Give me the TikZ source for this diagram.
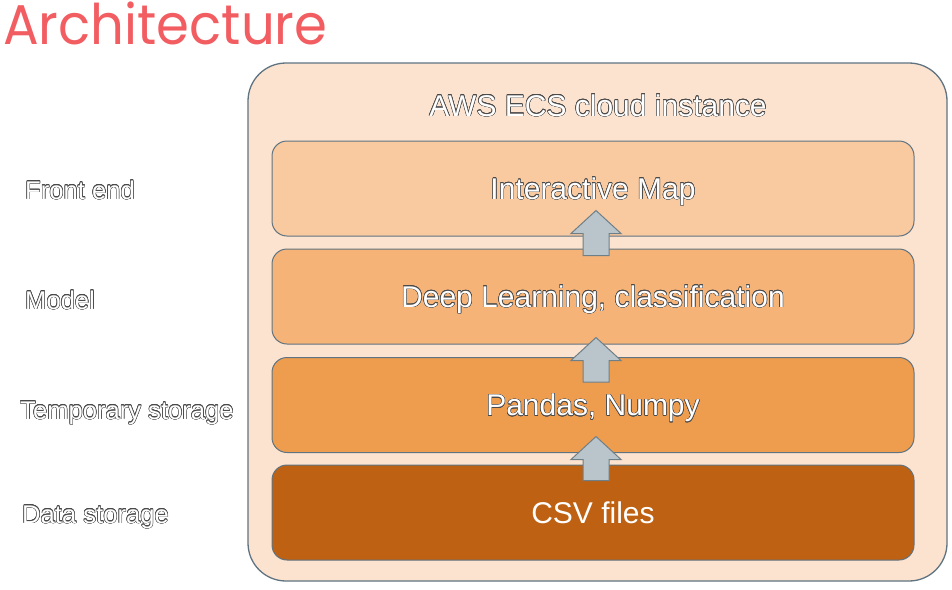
\documentclass[tikz,border=0pt]{standalone}
\usepackage{fontspec}
\setmainfont{Liberation Sans}
\newfontfamily\titlefont{Poppins}[FakeStretch=0.945]
\usepackage[copies]{contour}
\contourlength{0.5pt}
\contournumber{16}
\usetikzlibrary{calc}
\definecolor{titlered}{HTML}{F25D61}
\definecolor{outerfill}{HTML}{FCE3CF}
\definecolor{fillA}{HTML}{F9C9A0}
\definecolor{fillB}{HTML}{F5B378}
\definecolor{fillC}{HTML}{EE9D4F}
\definecolor{fillD}{HTML}{BE6112}
\definecolor{edge}{HTML}{5F7381}
\definecolor{arrfill}{HTML}{B9C5CB}
\definecolor{arredge}{HTML}{6F7F88}
\definecolor{outl}{HTML}{4A4A4A}
\newcommand\outlined[1]{\contour{outl}{\textcolor{white}{#1}}}
\tikzset{
  layerbox/.style={draw=edge, line width=1pt, rounded corners=15pt,
    minimum width=642pt, minimum height=95pt, inner sep=0pt,
    font=\fontsize{30}{36}\selectfont, text height=21.5pt, text depth=0pt},
  sidelabel/.style={anchor=base west, inner sep=0pt,
    font=\fontsize{25.6}{30}\selectfont},
  blockarrow/.style={draw=arredge, fill=arrfill, line width=1pt, line join=miter}
}
\newcommand\blockup[2]{%
  \draw[blockarrow] let \p1=(#1), \p2=(#2) in
    (\x1-13pt,\y1) -- (\x1-13pt,\y2-23pt) -- (\x1-25pt,\y2-23pt) -- (\x1,\y2)
    -- (\x1+25pt,\y2-23pt) -- (\x1+13pt,\y2-23pt) -- (\x1+13pt,\y1) -- cycle;}
\begin{document}
\begin{tikzpicture}[x=1pt,y=-1pt]
\useasboundingbox (0,0) rectangle (952,589);
\node[anchor=base west, inner sep=0pt, text=titlered,
  font=\titlefont\fontsize{56}{60}\selectfont] (title) at (3,44) {Architecture};
\node[draw=edge, fill=outerfill, line width=1.3pt, rounded corners=38pt,
  minimum width=699pt, minimum height=518pt, inner sep=0pt] (outer) at (597.5,322) {};
\node[anchor=base, inner sep=0pt, font=\fontsize{30}{36}\selectfont] (aws) at (598,116)
  {\outlined{AWS ECS cloud instance}};
\node[layerbox, fill=fillA] (b1) at (593,188.5) {\outlined{Interactive Map}};
\node[layerbox, fill=fillB] (b2) at (593,296.5) {\outlined{Deep Learning, classification}};
\node[layerbox, fill=fillC] (b3) at (593,405) {\outlined{Pandas, Numpy}};
\node[layerbox, fill=fillD, text=white] (b4) at (593,512.5) {CSV files};
\coordinate (a1s) at ($(b2.north)+(3,7)$);
\coordinate (a1t) at ($(b1.south)+(3,-26)$);
\coordinate (a2s) at ($(b3.north)+(3,25)$);
\coordinate (a2t) at ($(b2.south)+(3,-7)$);
\coordinate (a3s) at ($(b4.north)+(3,16)$);
\coordinate (a3t) at ($(b3.south)+(3,-16.5)$);
\blockup{a1s}{a1t}
\blockup{a2s}{a2t}
\blockup{a3s}{a3t}
\node[sidelabel] (l1) at (25,199) {\outlined{Front end}};
\node[sidelabel] (l2) at (25,309) {\outlined{Model}};
\node[sidelabel] (l3) at (20,419) {\outlined{Temporary storage}};
\node[sidelabel] (l4) at (22,523) {\outlined{Data storage}};
\end{tikzpicture}
\end{document}
